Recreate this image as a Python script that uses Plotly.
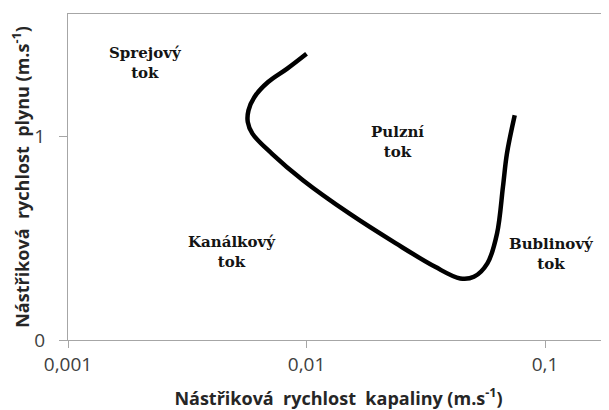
import numpy as np
import plotly.graph_objects as go

# boundary between flow regimes
liquid_velocity = [0.0100, 0.0083, 0.0069, 0.00605, 0.00571, 0.00567, 0.00593, 0.00715,
                   0.00966, 0.0151, 0.0237, 0.0346, 0.0441, 0.0503, 0.0573, 0.0629,
                   0.0666, 0.0692, 0.0746]
gas_velocity = [1.405, 1.332, 1.266, 1.193, 1.127, 1.070, 1.013, 0.915,
                0.784, 0.621, 0.474, 0.359, 0.302, 0.310, 0.376, 0.523,
                0.752, 0.915, 1.103]

regime_labels = ["Sprejový<br>tok", "Pulzní<br>tok", "Kanálkový<br>tok", "Bublinový<br>tok"]
label_x = [0.00211, 0.0240, 0.00486, 0.1064]
label_y = [1.36, 0.97, 0.43, 0.42]

x_ticks = [0.001, 0.01, 0.1]
x_ticktext = ["0,001", "0,01", "0,1"]
y_ticks = [0, 1]
y_ticktext = ["0", "1"]

axis_color = '#a6a6a6'
text_color = '#404040'

fig = go.Figure()
fig.add_trace(go.Scatter(
    x=liquid_velocity,
    y=gas_velocity,
    mode='lines',
    line=dict(color='black', width=4.5, shape='spline', smoothing=1.0),
    hoverinfo='none',
    showlegend=False
))

for text, lx, ly in zip(regime_labels, label_x, label_y):
    fig.add_annotation(
        x=np.log10(lx), y=ly, text=text, showarrow=False,
        font=dict(family="DejaVu Serif", size=15, color='#141414', weight='bold'),
        align='center'
    )

# page body adds an 8px margin, so the figure is 8px smaller than the window
fig.update_layout(
    width=601,
    height=402,
    margin=dict(l=60, r=0, t=6, b=70),
    plot_bgcolor='white',
    paper_bgcolor='white',
    font=dict(family="Open Sans, sans-serif", color=text_color),
    xaxis=dict(
        type='log',
        range=[-3, -0.732],
        automargin=False,
        tickvals=x_ticks,
        ticktext=x_ticktext,
        tickfont=dict(size=19, color=text_color),
        ticks='outside', ticklen=7, tickcolor=axis_color,
        showline=True, linecolor=axis_color, linewidth=1.3, mirror=True,
        showgrid=False, zeroline=False,
        title=dict(text="Nástřiková  rychlost  kapaliny (m.s<sup>-1</sup>)",
                   font=dict(size=18, color='#262626', weight='bold'), standoff=16)
    ),
    yaxis=dict(
        range=[0, 1.6],
        automargin=False,
        tickvals=y_ticks,
        ticktext=y_ticktext,
        tickfont=dict(size=19, color=text_color),
        ticks='outside', ticklen=8, tickcolor=axis_color,
        ticklabelstandoff=10,
        showline=True, linecolor=axis_color, linewidth=1.3,
        showgrid=False, zeroline=False,
        title=dict(text="Nástřiková  rychlost  plynu (m.s<sup>-1</sup>)",
                   font=dict(size=18, color='#262626', weight='bold'), standoff=8)
    )
)

fig.write_html("out.html")
